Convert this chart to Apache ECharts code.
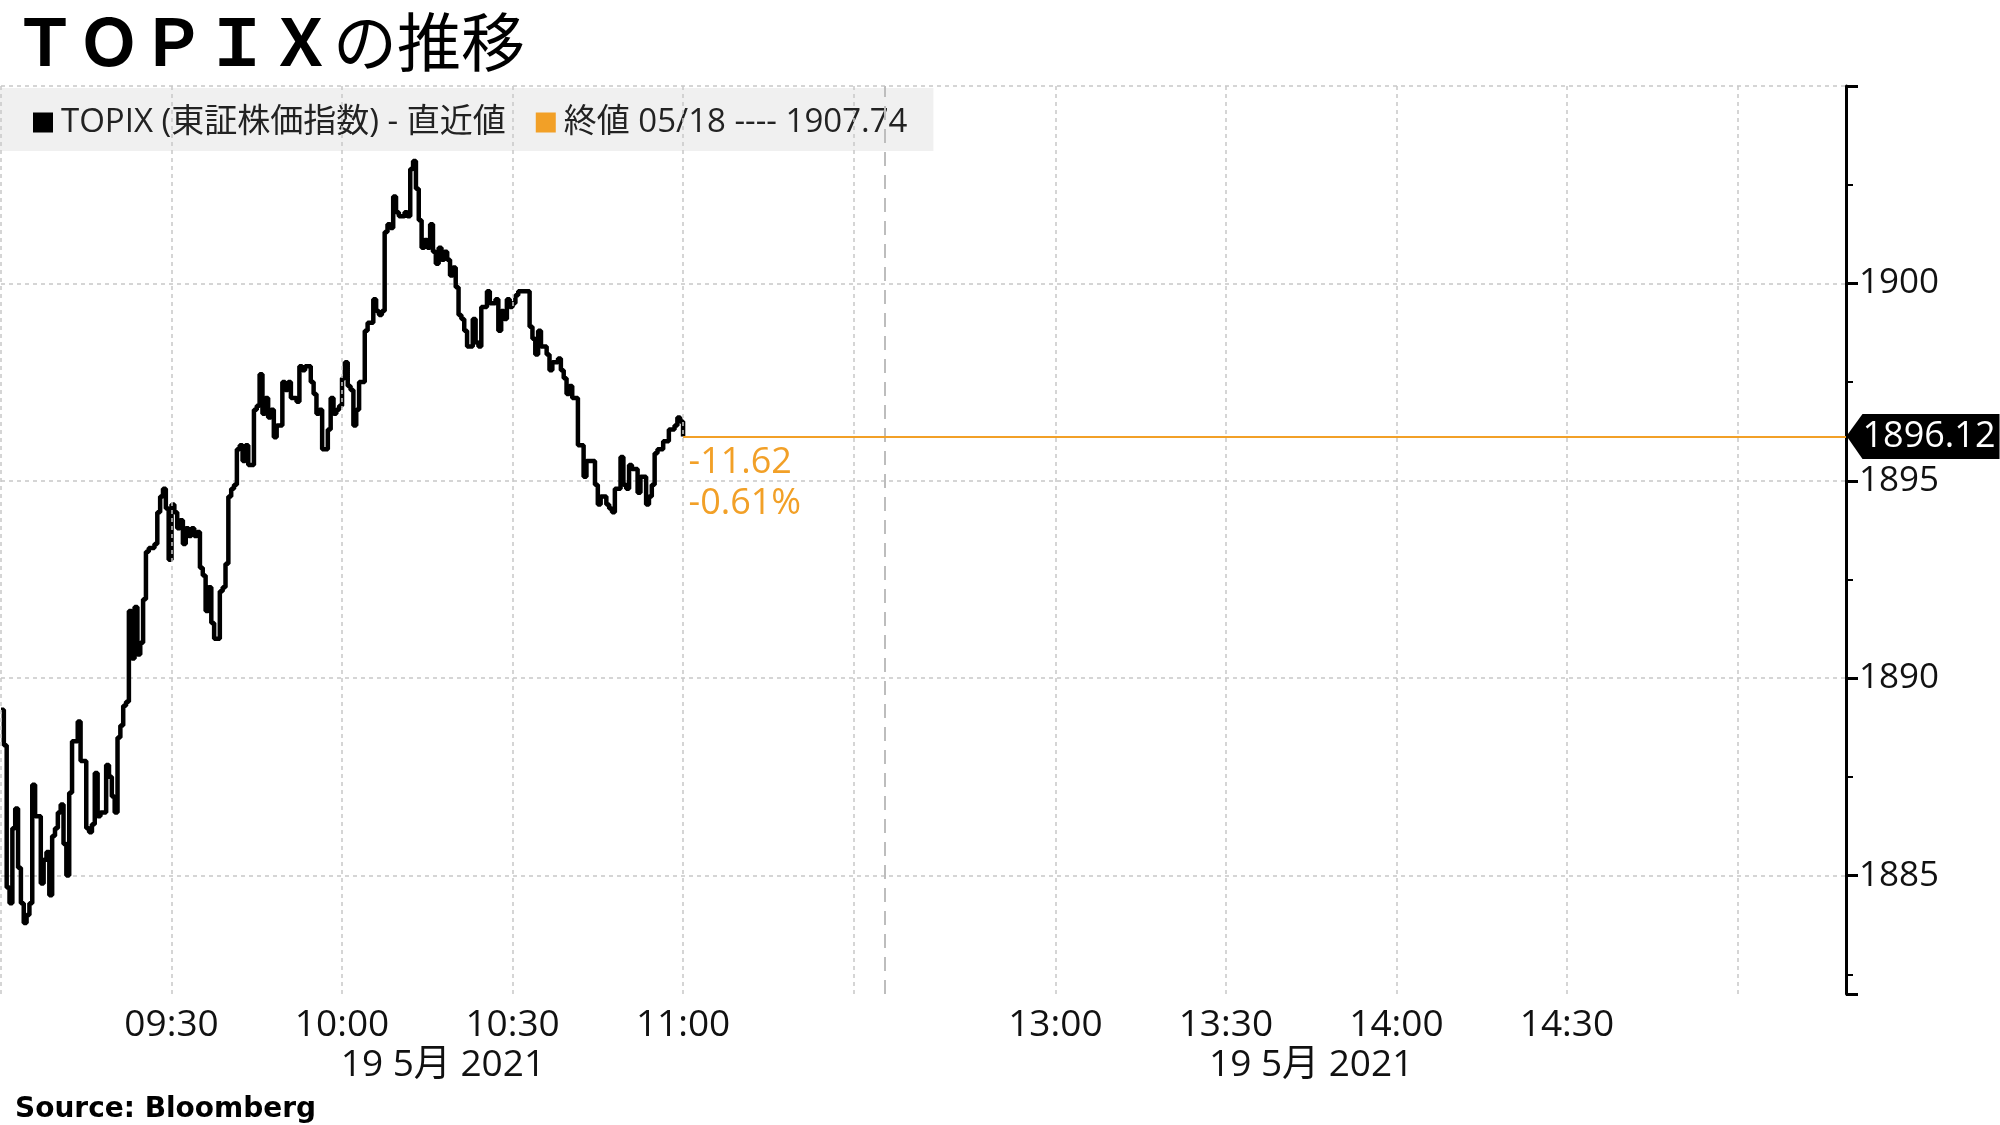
<!DOCTYPE html>
<html><head><meta charset="utf-8">
<script src="https://cdn.jsdelivr.net/npm/echarts@6/dist/echarts.min.js"></script>
<style>html,body{margin:0;padding:0;background:#fff;}#c{width:2000px;height:1125px;}</style>
</head><body><div id="c"></div>
<script>
// ---- data ----
const times = [
'09:00:00','09:00:30','09:01:00','09:01:30','09:02:00','09:02:30','09:03:00','09:03:30','09:04:00','09:04:30',
'09:05:00','09:05:30','09:06:00','09:06:30','09:07:00','09:07:30','09:08:00','09:08:30','09:09:00','09:09:30',
'09:10:00','09:10:30','09:11:00','09:11:30','09:12:00','09:12:30','09:13:00','09:13:30','09:14:00','09:14:30',
'09:15:00','09:15:30','09:16:00','09:16:30','09:17:00','09:17:30','09:18:00','09:18:30','09:19:00','09:19:30',
'09:20:00','09:20:30','09:21:00','09:21:30','09:22:00','09:22:30','09:23:00','09:23:30','09:24:00','09:24:30',
'09:25:00','09:25:30','09:26:00','09:26:30','09:27:00','09:27:30','09:28:00','09:28:30','09:29:00','09:29:30',
'09:30:00','09:30:30','09:31:00','09:31:30','09:32:00','09:32:30','09:33:00','09:33:30','09:34:00','09:34:30',
'09:35:00','09:35:30','09:36:00','09:36:30','09:37:00','09:37:30','09:38:00','09:38:30','09:39:00','09:39:30',
'09:40:00','09:40:30','09:41:00','09:41:30','09:42:00','09:42:30','09:43:00','09:43:30','09:44:00','09:44:30',
'09:45:00','09:45:30','09:46:00','09:46:30','09:47:00','09:47:30','09:48:00','09:48:30','09:49:00','09:49:30',
'09:50:00','09:50:30','09:51:00','09:51:30','09:52:00','09:52:30','09:53:00','09:53:30','09:54:00','09:54:30',
'09:55:00','09:55:30','09:56:00','09:56:30','09:57:00','09:57:30','09:58:00','09:58:30','09:59:00','09:59:30',
'10:00:00','10:00:30','10:01:00','10:01:30','10:02:00','10:02:30','10:03:00','10:03:30','10:04:00','10:04:30',
'10:05:00','10:05:30','10:06:00','10:06:30','10:07:00','10:07:30','10:08:00','10:08:30','10:09:00','10:09:30',
'10:10:00','10:10:30','10:11:00','10:11:30','10:12:00','10:12:30','10:13:00','10:13:30','10:14:00','10:14:30',
'10:15:00','10:15:30','10:16:00','10:16:30','10:17:00','10:17:30','10:18:00','10:18:30','10:19:00','10:19:30',
'10:20:00','10:20:30','10:21:00','10:21:30','10:22:00','10:22:30','10:23:00','10:23:30','10:24:00','10:24:30',
'10:25:00','10:25:30','10:26:00','10:26:30','10:27:00','10:27:30','10:28:00','10:28:30','10:29:00','10:29:30',
'10:30:00','10:30:30','10:31:00','10:31:30','10:32:00','10:32:30','10:33:00','10:33:30','10:34:00','10:34:30',
'10:35:00','10:35:30','10:36:00','10:36:30','10:37:00','10:37:30','10:38:00','10:38:30','10:39:00','10:39:30',
'10:40:00','10:40:30','10:41:00','10:41:30','10:42:00','10:42:30','10:43:00','10:43:30','10:44:00','10:44:30',
'10:45:00','10:45:30','10:46:00','10:46:30','10:47:00','10:47:30','10:48:00','10:48:30','10:49:00','10:49:30',
'10:50:00','10:50:30','10:51:00','10:51:30','10:52:00','10:52:30','10:53:00','10:53:30','10:54:00','10:54:30',
'10:55:00','10:55:30','10:56:00','10:56:30','10:57:00','10:57:30','10:58:00','10:58:30','10:59:00','10:59:30',
'11:00:00'
];
const values = [
1889.2,1888.3,1884.7,1884.3,1886.2,1886.7,1885.2,1884.3,1883.8,1884.0,
1884.3,1887.3,1886.5,1886.5,1884.8,1885.4,1885.6,1884.5,1886.0,1886.2,
1886.6,1886.8,1885.8,1885.0,1887.1,1888.4,1888.4,1888.9,1887.9,1887.9,
1886.2,1886.1,1886.3,1887.6,1886.5,1886.6,1886.6,1887.8,1887.5,1887.0,
1886.6,1888.5,1888.8,1889.3,1889.4,1891.7,1890.5,1891.8,1890.6,1890.9,
1892.0,1893.2,1893.3,1893.3,1893.4,1894.2,1894.6,1894.8,1894.3,1893.0,
1894.4,1894.2,1893.8,1894.0,1893.4,1893.8,1893.6,1893.8,1893.6,1893.7,
1892.8,1892.6,1891.7,1892.3,1891.4,1891.0,1891.0,1892.2,1892.3,1892.9,
1894.6,1894.8,1894.9,1895.8,1895.9,1895.5,1895.9,1895.4,1895.4,1896.8,
1896.9,1897.7,1896.7,1897.1,1896.6,1896.8,1896.1,1896.4,1896.4,1897.5,
1897.3,1897.5,1897.1,1897.1,1897.0,1897.9,1897.8,1897.9,1897.9,1897.5,
1897.2,1896.7,1896.8,1895.8,1895.8,1896.3,1897.1,1896.7,1896.8,1896.9,
1897.6,1898.0,1897.4,1897.3,1896.4,1896.8,1897.5,1897.5,1898.8,1899.0,
1899.0,1899.6,1899.3,1899.2,1899.3,1901.3,1901.5,1901.4,1902.2,1901.8,
1901.7,1901.7,1901.8,1901.7,1902.9,1903.1,1902.4,1901.6,1900.9,1901.1,
1900.9,1901.5,1900.8,1900.5,1900.9,1900.6,1900.8,1900.6,1900.2,1900.4,
1899.9,1899.2,1899.1,1898.8,1898.4,1898.4,1899.1,1898.5,1898.4,1899.4,
1899.4,1899.8,1899.5,1899.5,1899.6,1898.8,1899.3,1899.1,1899.6,1899.4,
1899.5,1899.7,1899.8,1899.8,1899.8,1899.8,1898.9,1898.6,1898.2,1898.8,
1898.4,1898.4,1898.2,1897.8,1898.0,1898.0,1898.1,1897.8,1897.6,1897.2,
1897.4,1897.1,1897.1,1895.9,1895.9,1895.1,1895.5,1895.5,1895.5,1894.9,
1894.4,1894.6,1894.6,1894.4,1894.3,1894.2,1894.8,1894.8,1895.6,1894.9,
1894.8,1895.4,1895.3,1895.3,1894.7,1895.1,1895.1,1894.4,1894.6,1894.9,
1895.7,1895.8,1895.8,1896.0,1896.0,1896.3,1896.3,1896.4,1896.6,1896.5,
1896.12
];
const prevClose = 1907.74;
const prevCloseDate = '05/18';
const seriesName = 'TOPIX (東証株価指数) - 直近値';
const labelTimes = ['09:30','10:00','10:30','11:00','13:00','13:30','14:00','14:30'];
const gridTimes = ['09:00','09:30','10:00','10:30','11:00','11:30','13:00','13:30','14:00','14:30','15:00'];
const breakTime = '12:30';
const sessions = [['09:00','12:30'],['12:30','15:00']];
const dateText = '19 5月 2021';

// ---- helpers ----
const LUNCH_SHOWN = 5.5;   // minutes of axis space given to the lunch break
const X_MAX = 324.6;
function toX(t){
  const p = t.split(':').map(Number);
  let m = (p[0]-9)*60 + p[1] + (p[2]||0)/60;
  if (m >= 210) m -= 60 - LUNCH_SHOWN;
  return m;
}
const ORANGE = '#f2a027';
const FONT = "'Open Sans','Noto Sans CJK JP',sans-serif";
const lineData = times.map((t,i)=>[toX(t), values[i]]);
const lastT = times[times.length-1], lastV = values[values.length-1];
const chg = lastV - prevClose;
const pct = chg / prevClose * 100;
const labelMap = {}; labelTimes.forEach(t=>{ labelMap[toX(t).toFixed(3)] = t; });
const dateCenters = sessions.map(s=>(toX(s[0])+toX(s[1]))/2);
const closeName = '終値 ' + prevCloseDate + ' ---- ' + prevClose.toFixed(2);

const chart = echarts.init(document.getElementById('c'), null, {renderer:'canvas'});
chart.setOption({
  backgroundColor:'#fff',
  animation:false,
  title:[
    {text:'{a|ＴＯＰＩＸ}{b|の推移}', left:8, top:5,
     textStyle:{rich:{
       a:{fontSize:64, fontWeight:'bold', fontFamily:"'Noto Sans CJK JP'", color:'#000'},
       b:{fontSize:64, fontWeight:'normal', fontFamily:"'Noto Sans CJK JP'", color:'#000'}}}},
    {text:'Source: Bloomberg', left:10, bottom:-4,
     textStyle:{fontSize:28, fontWeight:'bold', fontFamily:"'DejaVu Sans'", color:'#000'}}
  ],
  legend:{
    left:0, top:88, padding:[18,26,12,33], backgroundColor:'#f0f0f0',
    itemWidth:20, itemHeight:20, itemGap:30, icon:'rect',
    textStyle:{fontSize:33, color:'#222', fontFamily:FONT, padding:[0,0,0,3]},
    data:[{name:seriesName, itemStyle:{color:'#000'}},{name:closeName, itemStyle:{color:ORANGE}}]
  },
  grid:{left:1, right:154, top:86, bottom:131, containLabel:false},
  xAxis:[
    {type:'value', min:0, max:X_MAX, position:'bottom',
     axisLine:{show:false}, axisTick:{show:false}, splitLine:{show:false},
     axisLabel:{customValues:labelTimes.map(toX), fontSize:37, color:'#111', fontFamily:FONT, margin:13,
       formatter:v=>labelMap[Number(v).toFixed(3)]||''}},
    {type:'value', min:0, max:X_MAX, position:'bottom', offset:40,
     axisLine:{show:false}, axisTick:{show:false}, splitLine:{show:false},
     axisLabel:{customValues:dateCenters, fontSize:37, color:'#111', fontFamily:FONT, margin:13,
       formatter:()=>dateText}}
  ],
  yAxis:{type:'value', position:'right', min:1882, max:1905, splitNumber:5,
    axisLine:{show:true, onZero:false, lineStyle:{color:'#000', width:3}},
    axisTick:{show:true, length:12, lineStyle:{color:'#000', width:3}},
    minorTick:{show:true, splitNumber:2, length:7, lineStyle:{color:'#000', width:2}},
    axisLabel:{showMinLabel:false, showMaxLabel:false, fontSize:35, color:'#111', fontFamily:FONT, margin:13,
      formatter:v=>String(v)},
    splitLine:{show:true, showMinLine:false, lineStyle:{color:'#c8c8c8', type:[4,4], width:1.5}}
  },
  series:[
    {name:closeName, type:'line', data:[[0,prevClose],[X_MAX,prevClose]], color:ORANGE,
     symbol:'none', clip:true, z:1, silent:true,
     markLine:{silent:true, symbol:['none','none'], label:{show:false}, animation:false,
       data:gridTimes.map(t=>({xAxis:toX(t), lineStyle:{color:'#c8c8c8', type:[4,4], width:1.5}}))
         .concat([{xAxis:toX(breakTime), lineStyle:{color:'#bdbdbd', type:[14,9], width:2}}])}
    },
    {name:seriesName, type:'line', data:lineData, step:'end', color:'#000',
     symbol:'none', clip:true, z:3, lineStyle:{color:'#000', width:4.5},
     markLine:{silent:true, symbol:['none','none'], label:{show:false},
       lineStyle:{color:ORANGE, width:2, type:'solid'},
       data:[[{coord:[toX(lastT), lastV]},{coord:[X_MAX, lastV]}]]},
     markPoint:{silent:true, data:[
       {coord:[toX(lastT), lastV], symbol:'circle', symbolSize:1, itemStyle:{color:'rgba(0,0,0,0)'},
        label:{show:true, position:[6,6], align:'left', verticalAlign:'top',
          formatter:chg.toFixed(2)+'\n'+pct.toFixed(2)+'%', color:ORANGE, fontSize:36, lineHeight:41, fontFamily:FONT}},
       {coord:[X_MAX, lastV], symbol:'path://M0,22 L16,0 L153,0 L153,45 L16,45 Z', symbolSize:[153,45],
        symbolOffset:[77,0], symbolKeepAspect:false, itemStyle:{color:'#000'},
        label:{show:true, position:'inside', offset:[6,0], formatter:lastV.toFixed(2), color:'#fff', fontSize:36, fontFamily:FONT}}
     ]}
    }
  ]
});
</script></body></html>
